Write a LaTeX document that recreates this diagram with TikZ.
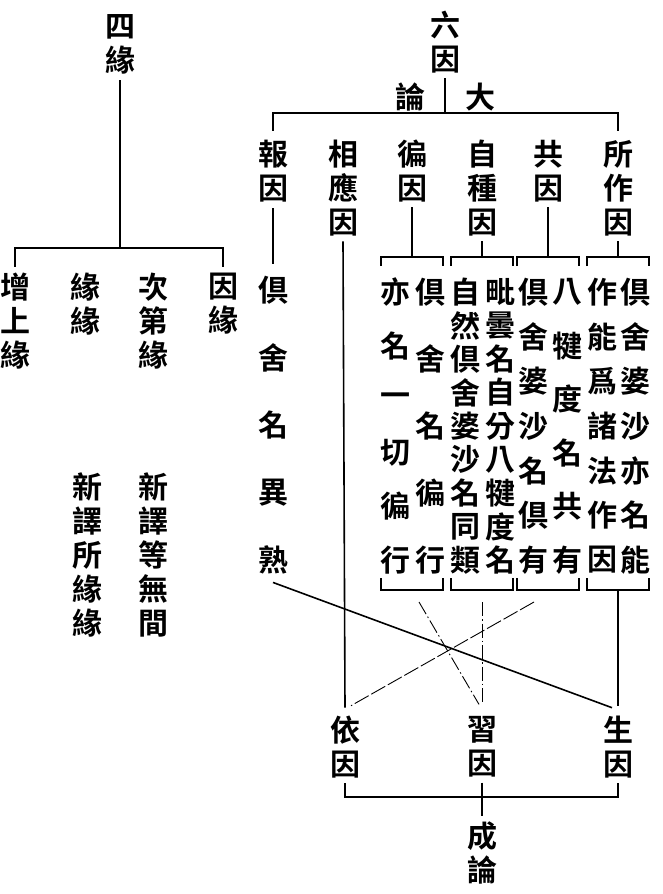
\documentclass[tikz,border=0pt]{standalone}
\usepackage{fontspec}
\newfontfamily\cjk{Noto Sans CJK TC}[UprightFont=* Bold]
\usetikzlibrary{positioning,calc}

\begin{document}
\begin{tikzpicture}[x=1pt,y=-1pt]
		\tikzstyle{han} = [font=\cjk\fontsize{30}{34}\selectfont, inner sep=0, align=center]
		\tikzstyle{link} = [line width=1.6]
		\tikzstyle{weak} = [line width=0.9]
		\tikzstyle{dashdot} = [weak, dash pattern=on 14pt off 3pt on 1.5pt off 3pt]
		\tikzstyle{longdash} = [weak, dash pattern=on 16pt off 3pt]
		\useasboundingbox (0,0) rectangle (662,894);
		
		% four conditions
		\node [han] (siyuan) at (120,44) {四\\緣};
		\coordinate (sibar) at (120,248);
		\node [han] (zengshang) at (15,321) {增\\上\\緣};
		\node [han] (yuanyuan) at (85,304) {緣\\緣};
		\node [han] (cidi) at (153,321) {次\\第\\緣};
		\node [han] (yinyuan) at (223,304) {因\\緣};
		\node [han] (xinyi1) at (87,555) {新\\譯\\所\\緣\\緣};
		\node [han] (xinyi2) at (153,555) {新\\譯\\等\\無\\間};
		\draw [link] ([yshift=-6pt]siyuan.south) -- (sibar);
		\draw [link] ([yshift=6pt]zengshang.north) |- (sibar) -| ([yshift=6pt]yinyuan.north);
		
		% six causes
		\node [han] (liuyin) at (445,42) {六\\因};
		\node [han] (lun) at (410,97) {論};
		\node [han] (da) at (480,97) {大};
		\coordinate (liubar) at (445,113);
		\node [han] (bao) at (273,171) {報\\因};
		\node [han] (xiangying) at (343,188) {相\\應\\因};
		\node [han] (bian) at (412,171) {徧\\因};
		\node [han] (zizhong) at (482,188) {自\\種\\因};
		\node [han] (gong) at (548,171) {共\\因};
		\node [han] (suozuo) at (618,188) {所\\作\\因};
		\draw [link] ([yshift=-5pt]liuyin.south) -- (liubar);
		\draw [link] ([yshift=9pt]bao.north) |- (liubar) -| ([yshift=9pt]suozuo.north);
		
		\foreach \c [count=\i from 0] in {倶,舍,名,異,熟}
			\node [han] (bao-\i) at (273,290+67.5*\i) {\c};
		\draw [link] ([yshift=-6pt]bao.south) -- ([yshift=12pt]bao-0.north);
		
		\foreach \g/\x in {bian/412,zizhong/482,gong/548,suozuo/618} {
			\coordinate (\g-top) at (\x,257);
			\coordinate (\g-bot) at (\x,590);
			\draw [link] ([yshift=-5pt]\g.south) -- (\g-top);
			\draw [link] ([xshift=-31pt,yshift=-9pt]\g-top) -- ([xshift=-31pt]\g-top) -- ([xshift=31pt]\g-top) -- ([xshift=31pt,yshift=-9pt]\g-top);
			\draw [link] ([xshift=-31pt,yshift=12pt]\g-bot) -- ([xshift=-31pt]\g-bot) -- ([xshift=31pt]\g-bot) -- ([xshift=31pt,yshift=12pt]\g-bot);
		}
		
		\foreach \c [count=\i from 0] in {亦,名,一,切,徧,行}
			\node [han] (bian-l\i) at (395,292+53.6*\i) {\c};
		\foreach \c [count=\i from 0] in {倶,舍,名,徧,行}
			\node [han] (bian-r\i) at (430,292+67*\i) {\c};
		\foreach \c [count=\i from 0] in {自,然,倶,舍,婆,沙,名,同,類}
			\node [han] (zizhong-l\i) at (465,292+33.5*\i) {\c};
		\foreach \c [count=\i from 0] in {毗,曇,名,自,分,八,犍,度,名}
			\node [han] (zizhong-r\i) at (500,292+33.5*\i) {\c};
		\foreach \c [count=\i from 0] in {倶,舍,婆,沙,名,倶,有}
			\node [han] (gong-l\i) at (533,292+44.67*\i) {\c};
		\foreach \c [count=\i from 0] in {八,犍,度,名,共,有}
			\node [han] (gong-r\i) at (567,292+53.6*\i) {\c};
		\foreach \c [count=\i from 0] in {作,能,爲,諸,法,作,因}
			\node [han] (suozuo-l\i) at (602,292+44.67*\i) {\c};
		\foreach \c [count=\i from 0] in {倶,舍,婆,沙,亦,名,能}
			\node [han] (suozuo-r\i) at (635,292+44.67*\i) {\c};
		
		% three causes
		\node [han] (yiyin) at (345,747) {依\\因};
		\node [han] (xiyin) at (482,747) {習\\因};
		\node [han] (shengyin) at (618,747) {生\\因};
		\coordinate (chengbar) at (482,797);
		\node [han] (chenglun) at (482,853) {成\\論};
		\draw [link] ([yshift=-5pt]yiyin.south) |- (chengbar) -| ([yshift=-5pt]shengyin.south);
		\draw [link] ([yshift=-5pt]xiyin.south) -- ([yshift=6pt]chenglun.north);
		\draw [link] ([yshift=-5pt]xiangying.south) -- ([yshift=8pt]yiyin.north);
		
		\draw [link] ([yshift=-8pt]bao-4.south) -- ([xshift=-6pt,yshift=8pt]shengyin.north);
		\draw [longdash] ([xshift=-14pt,yshift=-12pt]gong-bot) -- ([xshift=6pt,yshift=10pt]yiyin.north);
		\draw [dashdot] ([xshift=7pt,yshift=-12pt]bian-bot) -- ([xshift=-3pt,yshift=12pt]xiyin.north);
		\draw [dashdot] ([yshift=-12pt]zizhong-bot) -- ([yshift=12pt]xiyin.north);
		\draw [link] (suozuo-bot) -- ([yshift=10pt]shengyin.north);
\end{tikzpicture}
\end{document}
